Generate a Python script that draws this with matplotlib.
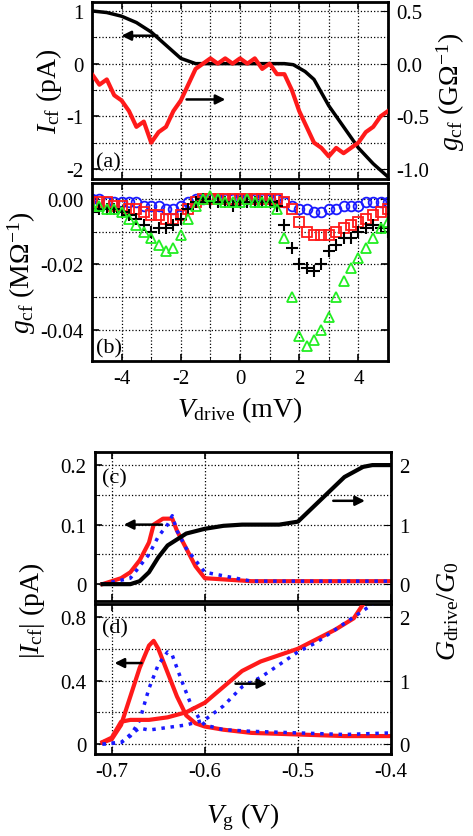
import numpy as np
import matplotlib
matplotlib.use("Agg")
import matplotlib.pyplot as plt

plt.rcParams['font.family'] = ['Liberation Serif', 'DejaVu Serif']
plt.rcParams['mathtext.fontset'] = 'custom'
plt.rcParams['mathtext.it'] = 'Liberation Serif:italic'
plt.rcParams['mathtext.rm'] = 'Liberation Serif'

# panel (a)
a_x = [-5, -4.5, -4, -3.5, -3, -2.5, -2, -1.5, -1, -0.5, 0, 0.5, 1, 1.5, 1.8, 2.2, 2.5, 3, 3.5, 4, 4.5, 5]
a_I = [1.0, 0.97, 0.9, 0.78, 0.6, 0.35, 0.1, 0.0, 0.0, 0.0, 0.0, 0.0, 0.0, 0.0, -0.02, -0.15, -0.3, -0.8, -1.2, -1.6, -1.9, -2.15]
a_gx = [-5, -4.75, -4.5, -4.25, -4, -3.75, -3.5, -3.25, -3, -2.75, -2.5, -2.25, -2, -1.75, -1.5, -1.25, -1, -0.75, -0.5, -0.25, 0,
        0.25, 0.5, 0.75, 1, 1.25, 1.5, 1.75, 2, 2.25, 2.5, 2.75, 3, 3.25, 3.5, 3.75, 4, 4.25, 4.5, 4.75, 5]
a_g = [-0.1, -0.2, -0.15, -0.3, -0.35, -0.45, -0.6, -0.55, -0.75, -0.65, -0.6, -0.45, -0.35, -0.2, -0.05, 0.0, 0.05, 0.0, 0.05, 0.0, 0.05,
       0.0, 0.05, -0.05, 0.0, -0.1, -0.1, -0.25, -0.45, -0.6, -0.75, -0.8, -0.88, -0.8, -0.85, -0.8, -0.75, -0.65, -0.6, -0.5, -0.45]

# panel (b)
b_x = a_gx
b_green = [-2, -2, -3, -3, -4, -6, -8, -10, -12, -14, -16, -15, -11, -6, -2, 0, 1, 0, -1, -1, -1, 0, -1, -1, -1, -3, -12, -30, -42, -45, -43, -40, -36, -30, -25, -21, -18, -15, -12, -9, -7]
b_black = [-4, -3, -3, -3, -4, -5, -6, -8, -10, -9, -9, -8, -6, -3, -1, 0, -1, -1, -1, -2, -1, -1, -1, -1, -1, -2, -8, -15, -20, -21, -22, -20, -16, -14, -12, -12, -10, -9, -8, -9, -10]
b_red = [-1, -1, -1, -2, -2, -3, -3, -4, -5, -5, -6, -6, -5, -3, -1, 0, 0, 0, 0, 0, 0, 0, 0, 0, 0, 0, -1, -3, -7, -10, -11, -11, -11, -10, -9, -8, -7, -6, -5, -4, -3]
b_blue = [0, 0, -1, -1, -1, -1, -1, -2, -2, -2, -3, -3, -2, -1, 0, 0, 0, 0, 0, 0, 0, 0, 0, 0, 0, 0, -1, -2, -3, -3, -4, -4, -3, -3, -2, -2, -2, -1, -1, -1, -1]

# panel (c)
c_gx = [-0.71, -0.68, -0.67, -0.66, -0.65, -0.64, -0.63, -0.62, -0.6, -0.58, -0.56, -0.52, -0.5, -0.49, -0.47, -0.45, -0.43, -0.42, -0.4]
c_G = [0, 0, 0.05, 0.2, 0.45, 0.65, 0.75, 0.85, 0.93, 0.98, 1.0, 1.0, 1.05, 1.2, 1.5, 1.8, 1.97, 2.0, 2.0]
c_rx = [-0.71, -0.69, -0.68, -0.67, -0.66, -0.655, -0.645, -0.635, -0.63, -0.62, -0.61, -0.6, -0.55, -0.5, -0.45, -0.4]
c_red = [0, 0.01, 0.02, 0.04, 0.07, 0.1, 0.11, 0.11, 0.09, 0.06, 0.03, 0.01, 0.005, 0.005, 0.005, 0.005]
c_bx = [-0.71, -0.68, -0.67, -0.66, -0.65, -0.64, -0.635, -0.63, -0.62, -0.61, -0.6, -0.55, -0.5, -0.45, -0.4]
c_blue = [0, 0.01, 0.03, 0.05, 0.08, 0.1, 0.115, 0.09, 0.06, 0.04, 0.02, 0.005, 0.005, 0.005, 0.005]

# panel (d)
d_rx = [-0.71, -0.70, -0.69, -0.68, -0.67, -0.66, -0.655, -0.65, -0.64, -0.63, -0.62, -0.61, -0.6, -0.58, -0.55, -0.5, -0.45, -0.4]
d_rI = [0.01, 0.03, 0.12, 0.3, 0.48, 0.62, 0.65, 0.6, 0.45, 0.3, 0.18, 0.13, 0.11, 0.09, 0.07, 0.06, 0.05, 0.05]
d_rgx = [-0.71, -0.70, -0.69, -0.68, -0.66, -0.64, -0.62, -0.6, -0.58, -0.56, -0.54, -0.52, -0.5, -0.48, -0.46, -0.44, -0.43]
d_rG = [0.03, 0.1, 0.35, 0.38, 0.38, 0.42, 0.5, 0.65, 0.9, 1.15, 1.3, 1.4, 1.5, 1.65, 1.8, 1.98, 2.2]
d_bx = [-0.71, -0.69, -0.68, -0.67, -0.66, -0.65, -0.64, -0.635, -0.625, -0.615, -0.605, -0.6, -0.58, -0.55, -0.5, -0.45, -0.4]
d_bI = [0, 0.01, 0.05, 0.15, 0.35, 0.5, 0.58, 0.56, 0.4, 0.25, 0.15, 0.12, 0.09, 0.08, 0.07, 0.06, 0.07]
d_bgx = [-0.71, -0.69, -0.68, -0.67, -0.66, -0.62, -0.6, -0.58, -0.56, -0.54, -0.52, -0.5, -0.48, -0.46, -0.44, -0.42]
d_bG = [0, 0.02, 0.15, 0.25, 0.22, 0.3, 0.38, 0.6, 0.9, 1.05, 1.25, 1.45, 1.6, 1.8, 2.0, 2.2]

W, H = 473, 837
fig = plt.figure(figsize=(W / 100, H / 100), dpi=100)

def ax_at(l, t, r, b):
    return fig.add_axes([l / W, 1 - b / H, (r - l) / W, (b - t) / H])

def style(ax, labelbottom=False):
    ax.tick_params(direction='in', length=5, width=1.2, labelsize=15, top=True,
                   labelbottom=labelbottom, pad=6)
    ax.grid(True, linestyle=':', color='black', linewidth=0.9)
    for s in ax.spines.values():
        s.set_linewidth(2)

arrow = dict(arrowstyle='-|>', color='black', lw=1.8, mutation_scale=14)

# (a)
axa = ax_at(92, 3, 388, 180)
axa.plot(a_x, a_I, color='black', lw=2.5)
axa.set_xlim(-5, 5); axa.set_ylim(-2.19, 1.17)
axa.set_yticks([-2, -1, 0, 1]); axa.set_yticks(np.arange(-2, 1.01, 0.5), minor=True)
axa.set_xticks(np.arange(-4, 5, 2)); axa.set_xticks(np.arange(-5, 5.1, 1), minor=True)
axa.grid(True, which='both', linestyle=':', color='black', linewidth=0.9)
axa.tick_params(which='minor', direction='in', length=3, top=True, right=True)
style(axa)
axa.set_yticklabels(['-2', '-1', '0', '1'])
axa.set_ylabel(r'$I_{\rm cf}$ (pA)', fontsize=20, labelpad=2)
axa.text(-4.85, -1.95, '(a)', fontsize=16)
axa.annotate('', xy=(-4.1, 0.53), xytext=(-2.7, 0.53), arrowprops=arrow)
axa.annotate('', xy=(-0.4, -0.68), xytext=(-1.9, -0.68), arrowprops=arrow)
axa2 = axa.twinx()
axa2.plot(a_gx, a_g, color='#ff1a1a', lw=3)
axa2.set_ylim(-1.095, 0.585)
axa2.set_yticks([-1.0, -0.5, 0.0, 0.5])
axa2.set_yticklabels(['-1.0', '-0.5', '0.0', '0.5'])
axa2.tick_params(direction='in', length=5, labelsize=15, pad=6)
axa2.set_ylabel(r'$g_{\rm cf}$ (G$\Omega^{-1}$)', fontsize=20, labelpad=4)

# (b)
axb = ax_at(92, 184, 388, 362)
kw = dict(linestyle='none', markerfacecolor='none', markersize=7, markeredgewidth=1.3)
bx = np.array(b_x)
axb.plot(bx, np.array(b_blue) * 1e-3, marker='o', color='#1a1aff', **kw)
axb.plot(bx, np.array(b_red) * 1e-3, marker='s', color='#ff1a1a', **kw)
axb.plot(bx, np.array(b_black) * 1e-3, marker='+', color='black', linestyle='none', markersize=9, markeredgewidth=1.5)
axb.plot(bx, np.array(b_green) * 1e-3, marker='^', color='#22ee22', **kw)
axb.set_xlim(-5, 5); axb.set_ylim(-0.0495, 0.0049)
axb.set_yticks([-0.04, -0.02, 0.0]); axb.set_yticklabels(['-0.04', '-0.02', '0.00'])
axb.set_yticks([-0.03, -0.01], minor=True)
axb.set_xticks(np.arange(-4, 5, 2)); axb.set_xticks(np.arange(-5, 5.1, 1), minor=True)
style(axb, labelbottom=True)
axb.grid(True, which='both', linestyle=':', color='black', linewidth=0.9)
axb.tick_params(which='minor', direction='in', length=3, top=True, right=True)
axb.tick_params(right=True)
axb.set_xticklabels(['-4', '-2', '0', '2', '4'])
axb.set_ylabel(r'$g_{\rm cf}$ (M$\Omega^{-1}$)', fontsize=20, labelpad=2)
axb.set_xlabel(r'$V_{\rm drive}$ (mV)', fontsize=20)
axb.text(-4.85, -0.047, '(b)', fontsize=16)

# (c)
axc = ax_at(95, 453, 391, 602)
axc.plot(c_rx, c_red, color='#ff1a1a', lw=3)
axc.plot(c_bx, c_blue, color='#1a1aff', lw=2.5, linestyle=':')
axc.set_xlim(-0.718, -0.4); axc.set_ylim(-0.0283, 0.222)
axc.set_yticks([0, 0.1, 0.2]); axc.set_yticklabels(['0', '0.1', '0.2'])
axc.set_yticks([0.05, 0.15], minor=True)
axc.set_xticks([-0.7, -0.6, -0.5, -0.4])
style(axc)
axc.grid(True, which='both', linestyle=':', color='black', linewidth=0.9)
axc.tick_params(which='minor', direction='in', length=3, right=True)
axc.text(-0.71, 0.17, '(c)', fontsize=16)
axc.annotate('', xy=(-0.69, 0.1), xytext=(-0.643, 0.1), arrowprops=arrow)
axc.annotate('', xy=(-0.425, 0.14), xytext=(-0.465, 0.14), arrowprops=arrow)
axc2 = axc.twinx()
axc2.plot(c_gx, c_G, color='black', lw=3)
axc2.set_ylim(-0.283, 2.22); axc2.set_yticks([0, 1, 2])
axc2.tick_params(direction='in', length=5, labelsize=15, pad=6)

# (d)
axd = ax_at(95, 605, 391, 755)
axd.plot(d_rx, d_rI, color='#ff1a1a', lw=3)
axd.plot(d_bx, d_bI, color='#1a1aff', lw=2.5, linestyle=':')
axd.set_xlim(-0.718, -0.4); axd.set_ylim(-0.063, 0.882)
axd.set_yticks([0, 0.4, 0.8]); axd.set_yticklabels(['0', '0.4', '0.8'])
axd.set_yticks([0.2, 0.6], minor=True)
axd.set_xticks([-0.7, -0.6, -0.5, -0.4])
style(axd, labelbottom=True)
axd.grid(True, which='both', linestyle=':', color='black', linewidth=0.9)
axd.tick_params(which='minor', direction='in', length=3, right=True)
axd.set_xticklabels(['-0.7', '-0.6', '-0.5', '-0.4'])
axd.set_xlabel(r'$V_{\rm g}$ (V)', fontsize=20, labelpad=14)
axd.text(-0.71, 0.7, '(d)', fontsize=16)
axd.annotate('', xy=(-0.7, 0.51), xytext=(-0.665, 0.51), arrowprops=arrow)
axd2 = axd.twinx()
axd2.plot(d_rgx, d_rG, color='#ff1a1a', lw=3)
axd2.plot(d_bgx, d_bG, color='#1a1aff', lw=2.5, linestyle=':')
axd2.set_ylim(-0.1575, 2.205); axd2.set_yticks([0, 1, 2])
axd2.tick_params(direction='in', length=5, labelsize=15, pad=6)
axd2.annotate('', xy=(-0.53, 0.95), xytext=(-0.57, 0.95), arrowprops=arrow)

fig.text(0.035, 0.27, r'$|I_{\rm cf}|$ (pA)', rotation=90, fontsize=20, va='center', ha='left')
fig.text(0.975, 0.27, r'$G_{\rm drive}/G_0$', rotation=90, fontsize=20, va='center', ha='right')

fig.savefig('out.png', dpi=100)
